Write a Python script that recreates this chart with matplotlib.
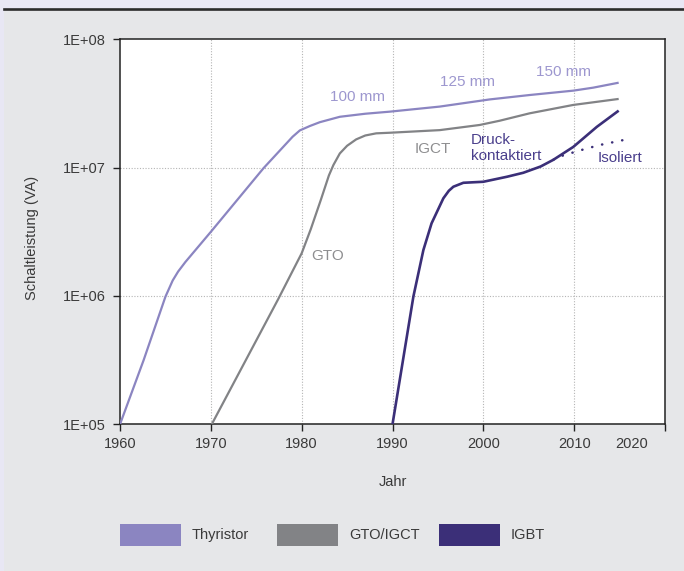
import matplotlib
matplotlib.use("Agg")
import matplotlib.pyplot as plt
from matplotlib.patches import Rectangle
from matplotlib.lines import Line2D
from matplotlib.ticker import FixedLocator, NullLocator
from matplotlib.transforms import offset_copy

plt.rcParams['font.family'] = ['Liberation Sans', 'DejaVu Sans']

# ---- data ----
thyristor_years = [1960, 1962.6, 1965.0, 1965.8, 1966.4, 1967.2, 1970.0,
                   1975.8, 1979.0, 1979.8, 1980.9, 1982.0, 1984.2, 1987.0, 1989.7,
                   1995.2, 2000.7, 2005.1, 2009.9, 2012.1, 2014.9]
thyristor_va = [1.0e5, 3.16e5, 9.86e5, 1.32e6, 1.55e6, 1.84e6, 3.16e6,
                9.9e6, 1.74e7, 1.95e7, 2.11e7, 2.26e7, 2.49e7, 2.63e7, 2.73e7,
                2.99e7, 3.40e7, 3.68e7, 3.98e7, 4.20e7, 4.59e7]

gto_years = [1970.1, 1977.4, 1980.0, 1981.0, 1982.1, 1983.0, 1983.5, 1984.2, 1985.0,
             1986.0, 1987.0, 1988.2, 1989.7, 1995.2, 1999.6, 2001.8, 2005.1, 2009.9, 2014.9]
gto_va = [1.0e5, 9.4e5, 2.15e6, 3.31e6, 5.58e6, 8.7e6, 1.05e7, 1.29e7, 1.48e7,
          1.66e7, 1.78e7, 1.85e7, 1.87e7, 1.96e7, 2.15e7, 2.32e7, 2.65e7, 3.08e7, 3.43e7]

igbt_years = [1990.0, 1992.3, 1993.4, 1994.3, 1995.6, 1996.2, 1996.7, 1997.8, 2000.0,
              2002.6, 2004.4, 2006.3, 2007.7, 2009.9, 2012.5, 2014.9]
igbt_va = [1.0e5, 9.9e5, 2.28e6, 3.68e6, 5.77e6, 6.6e6, 7.1e6, 7.62e6, 7.76e6,
           8.49e6, 9.12e6, 1.02e7, 1.15e7, 1.45e7, 2.08e7, 2.78e7]

isoliert_years = [2007.7, 2008.4, 2010.6, 2012.8, 2016.3]
isoliert_va = [1.15e7, 1.22e7, 1.36e7, 1.50e7, 1.69e7]

x_ticks = [1960, 1970, 1980, 1990, 2000, 2010, 2020]
x_tick_labels = ['1960', '1970', '1980', '1990', '2000', '2010', '']
y_ticks = [1e5, 1e6, 1e7, 1e8]
y_tick_labels = ['1E+05', '1E+06', '1E+07', '1E+08']
legend_labels = ['Thyristor', 'GTO/IGCT', 'IGBT']

# ---- styles ----
c_thy = '#8b85c1'
c_gto = '#828386'
c_igbt = '#3b2f78'
txt = '#3a3a3a'

W, H = 684, 571
fig = plt.figure(figsize=(W / 100, H / 100), dpi=100)
fig.patch.set_facecolor('#e8e7f4')
fig.patches.append(Rectangle((4.4 / W, 0), 1, 1 - 10 / H, transform=fig.transFigure,
                             facecolor='#e6e7e9', edgecolor='none', zorder=-2))
fig.lines.append(Line2D([4.4 / W, 1], [1 - 9.3 / H, 1 - 9.3 / H], transform=fig.transFigure,
                        color='#2b2b2b', lw=1.9, zorder=-1))

ax_l, ax_r, ax_t, ax_b = 120, 665, 39.3, 424.3
ax = fig.add_axes([ax_l / W, 1 - ax_b / H, (ax_r - ax_l) / W, (ax_b - ax_t) / H])
ax.set_zorder(1)
ax.set_facecolor('white')
ax.set_yscale('log')
ax.set_xlim(1960, 2020)
ax.set_ylim(1e5, 1e8)

ax.plot(thyristor_years, thyristor_va, color=c_thy, lw=1.6, solid_capstyle='butt', zorder=3)
ax.plot(gto_years, gto_va, color=c_gto, lw=1.6, solid_capstyle='butt', zorder=3)
ax.plot(igbt_years, igbt_va, color=c_igbt, lw=1.9, solid_capstyle='butt', zorder=4)
ax.plot(isoliert_years, isoliert_va, color=c_igbt, lw=1.8, linestyle=(0, (0.1, 4.0)),
        dash_capstyle='round', zorder=4)

tick_len, xpad = 5, 4.5
ax.xaxis.set_major_locator(FixedLocator(x_ticks))
ax.set_xticklabels(x_tick_labels)
ax.yaxis.set_major_locator(FixedLocator(y_ticks))
ax.yaxis.set_minor_locator(NullLocator())
ax.xaxis.set_minor_locator(NullLocator())
ax.set_yticklabels(y_tick_labels)
ax.tick_params(axis='both', direction='out', length=tick_len, width=1, color='#222222',
               labelsize=10.5, labelcolor=txt)
ax.tick_params(axis='x', pad=xpad)
ax.tick_params(axis='y', pad=5)
lbl_tr = offset_copy(ax.get_xaxis_transform(), fig=fig, x=0, y=-(tick_len + xpad), units='points')
ax.text(2016.3, 0, '2020', transform=lbl_tr, ha='center', va='top',
        fontsize=10.5, color=txt)

for s in ax.spines.values():
    s.set_color('#222222')
    s.set_linewidth(1.1)

for xv in x_ticks[1:-1]:
    ax.axvline(xv, color='#b5b5b5', lw=0.8, ls=(0, (1, 1.5)), zorder=1)
for yv in y_ticks[1:-1]:
    ax.axhline(yv, color='#b5b5b5', lw=0.8, ls=(0, (1, 1.5)), zorder=1)

ax.set_xlabel('Jahr', fontsize=10.5, color=txt, va='center')
ax.xaxis.set_label_coords(0.5, -0.150)
ax.set_ylabel('Schaltleistung (VA)', fontsize=10.5, color=txt, va='center')
ax.yaxis.set_label_coords(-0.162, 0.485)

def px_text(x, y, s, color, ha='center', va='center', size=11):
    fig.text(x / W, 1 - y / H, s, color=color, ha=ha, va=va, fontsize=size, zorder=5)

c_lbl = '#9d97cf'
px_text(358, 96.7, '100 mm', c_lbl)
px_text(468, 82, '125 mm', c_lbl)
px_text(563, 71.7, '150 mm', c_lbl)
px_text(433, 149.5, 'IGCT', '#8e8e90')
px_text(328, 256, 'GTO', '#8e8e90')
px_text(471, 140, 'Druck-', '#4a3f8c', ha='left')
px_text(471, 156.5, 'kontaktiert', '#4a3f8c', ha='left')
px_text(598, 157.7, 'Isoliert', '#4a3f8c', ha='left')

# legend
leg_x = [120, 277, 438.5]
leg_cols = [c_thy, c_gto, c_igbt]
for x0, col, lab in zip(leg_x, leg_cols, legend_labels):
    fig.patches.append(Rectangle((x0 / W, 1 - 545.7 / H), 61 / W, 21.7 / H,
                                 transform=fig.transFigure, facecolor=col, edgecolor='none'))
    px_text(x0 + 72, 535, lab, txt, ha='left', size=10.5)

fig.savefig('out.png', dpi=100, facecolor=fig.get_facecolor())
